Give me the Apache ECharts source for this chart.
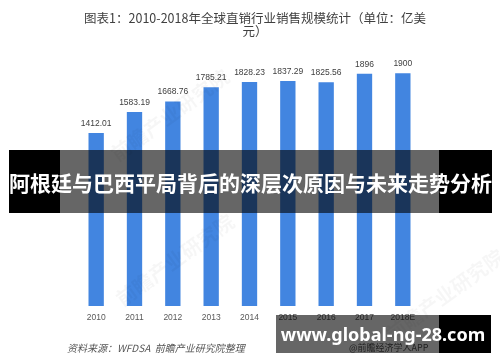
<!DOCTYPE html>
<html>
<head>
<meta charset="utf-8">
<script src="https://cdn.jsdelivr.net/npm/echarts@6/dist/echarts.min.js"></script>
<style>
html,body{margin:0;padding:0;background:#fff;}
#main{width:500px;height:362px;}
</style>
</head>
<body>
<div id="main"></div>
<script>
const years = ['2010','2011','2012','2013','2014','2015','2016','2017','2018E'];
const sales = [1412.01, 1583.19, 1668.76, 1785.21, 1828.23, 1837.29, 1825.56, 1896, 1900];
const valueLabels = ['1412.01','1583.19','1668.76','1785.21','1828.23','1837.29','1825.56','1896','1900'];
const titleText = '图表1：2010-2018年全球直销行业销售规模统计（单位：亿美\n元）';
const bannerText = '阿根廷与巴西平局背后的深层次原因与未来走势分析';
const siteText = 'www.global-ng-28.com';
const sourceText = '资料来源：WFDSA  前瞻产业研究院整理';
const appText = '@前瞻经济学人APP';
const watermarkText = '前瞻产业研究院';

const chart = echarts.init(document.getElementById('main'));
const cjk = '"Noto Sans CJK SC", "Noto Sans", sans-serif';
const wm = (x, y) => ({ type: 'text', z: 50, x: x, y: y, rotation: Math.PI / 5, style: { text: watermarkText, fill: 'rgba(0,0,0,0.035)', font: 'bold 20px "Noto Sans CJK SC"', textAlign: 'center', textVerticalAlign: 'middle' } });
chart.setOption({
  animation: false,
  backgroundColor: '#ffffff',
  title: {
    text: titleText,
    left: 250, top: 7, textAlign: 'center',
    textStyle: { fontFamily: cjk, fontSize: 12.5, fontWeight: 'normal', color: '#404040', lineHeight: 13 }
  },
  grid: { left: 77, right: 78, top: 61, bottom: 56, containLabel: false },
  xAxis: {
    type: 'category', data: years,
    axisLine: { show: false }, axisTick: { show: false },
    axisLabel: { color: '#595959', fontSize: 8.5, fontFamily: '"Liberation Sans", Arial, sans-serif', margin: 7 }
  },
  yAxis: { type: 'value', min: 0, max: 2000, show: false, splitLine: { show: false } },
  series: [{
    type: 'bar', data: sales, barWidth: '40%',
    itemStyle: { color: '#4285e0' },
    label: {
      show: true, position: 'top', distance: 5,
      color: '#404040', fontSize: 8.5, fontFamily: '"Liberation Sans", Arial, sans-serif',
      formatter: p => valueLabels[p.dataIndex]
    }
  }],
  graphic: [
    wm(175, 260), wm(170, 115), wm(445, 295),
    { type: 'text', z: 60, x: 67, y: 348, style: { text: sourceText, fill: '#555555', font: 'italic 10px "Noto Sans CJK SC"', textVerticalAlign: 'middle' } },
    { type: 'text', z: 60, x: 349, y: 348, style: { text: appText, fill: '#505050', font: '9px "Noto Sans CJK SC"', textVerticalAlign: 'middle' } },
    { type: 'rect', z: 100, shape: { x: 9, y: 150, width: 51, height: 63 }, style: { fill: '#000000' } },
    { type: 'rect', z: 100, shape: { x: 60, y: 150, width: 379, height: 63 }, style: { fill: 'rgba(0,0,0,0.6)' } },
    { type: 'rect', z: 100, shape: { x: 439, y: 150, width: 53, height: 63 }, style: { fill: '#000000' } },
    { type: 'text', z: 110, x: 250.5, y: 183, style: { text: bannerText, fill: '#ffffff', font: 'bold 21px "Noto Sans CJK SC"', textAlign: 'center', textVerticalAlign: 'middle' } },
    { type: 'rect', z: 100, shape: { x: 276, y: 315, width: 163, height: 38 }, style: { fill: 'rgba(0,0,0,0.6)' } },
    { type: 'rect', z: 100, shape: { x: 439, y: 315, width: 52, height: 38 }, style: { fill: '#000000' } },
    { type: 'text', z: 110, x: 383, y: 336, style: { text: siteText, fill: '#ffffff', font: 'bold 18px "Noto Sans", "DejaVu Sans", sans-serif', textAlign: 'center', textVerticalAlign: 'middle' } }
  ]
});
</script>
</body>
</html>
